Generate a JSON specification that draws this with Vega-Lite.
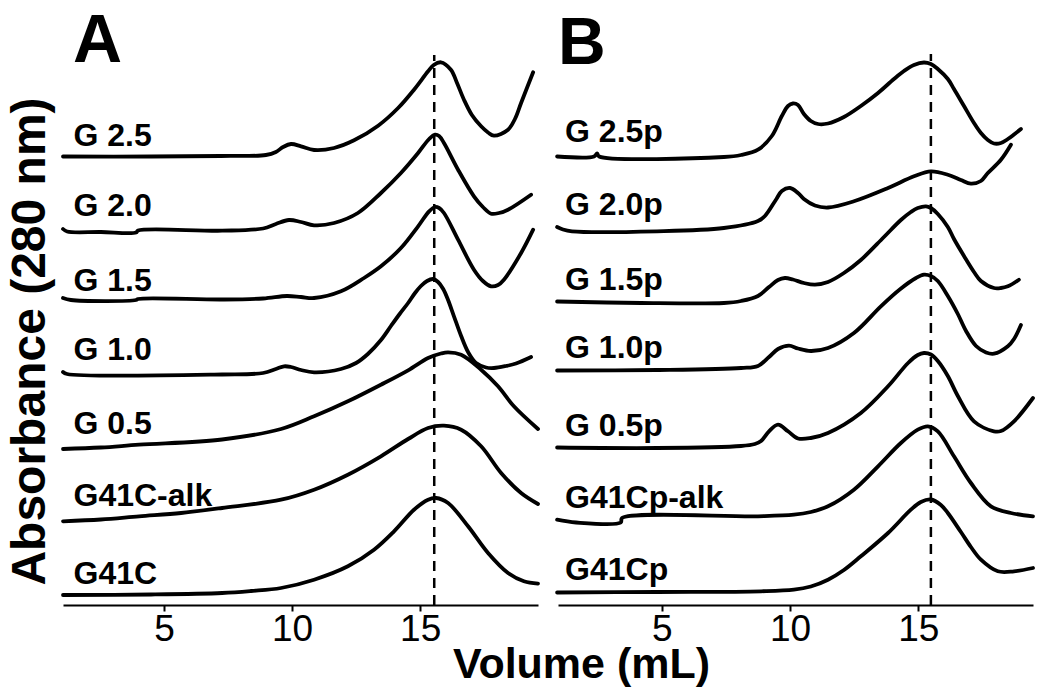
{
  "$schema": "https://vega.github.io/schema/vega-lite/v6.json",
  "background": "white",
  "padding": {"left": 5, "top": 8, "right": 5, "bottom": 5},
  "bounds": "flush",
  "spacing": 20,
  "config": {
    "view": {"stroke": null},
    "font": "Liberation Sans",
    "axis": {"domainColor": "black", "tickColor": "black", "labelColor": "black", "titleColor": "black", "grid": false},
    "title": {"color": "black"}
  },
  "datasets": {
    "tracesA": [
      {"sample":"G 2.5","volume":1.06,"abs":448.5},{"sample":"G 2.5","volume":4.50,"abs":448.5},{"sample":"G 2.5","volume":7.23,"abs":449},{"sample":"G 2.5","volume":8.98,"abs":450},{"sample":"G 2.5","volume":9.37,"abs":453},{"sample":"G 2.5","volume":9.65,"abs":458},{"sample":"G 2.5","volume":9.96,"abs":461},{"sample":"G 2.5","volume":10.35,"abs":458.7},{"sample":"G 2.5","volume":10.86,"abs":455},{"sample":"G 2.5","volume":11.64,"abs":457},{"sample":"G 2.5","volume":12.42,"abs":464.7},{"sample":"G 2.5","volume":13.36,"abs":479.3},{"sample":"G 2.5","volume":14.14,"abs":497},{"sample":"G 2.5","volume":14.76,"abs":515.3},{"sample":"G 2.5","volume":15.31,"abs":533.7},{"sample":"G 2.5","volume":15.53,"abs":540},{"sample":"G 2.5","volume":15.81,"abs":542.7},{"sample":"G 2.5","volume":16.20,"abs":535.3},{"sample":"G 2.5","volume":16.44,"abs":522},{"sample":"G 2.5","volume":16.71,"abs":505.3},{"sample":"G 2.5","volume":17.02,"abs":490},{"sample":"G 2.5","volume":17.38,"abs":478.7},{"sample":"G 2.5","volume":17.65,"abs":472.5},{"sample":"G 2.5","volume":17.88,"abs":469.3},{"sample":"G 2.5","volume":18.43,"abs":475.3},{"sample":"G 2.5","volume":18.70,"abs":486},{"sample":"G 2.5","volume":18.94,"abs":502},{"sample":"G 2.5","volume":19.41,"abs":532.7},

      {"sample":"G 2.0","volume":1.06,"abs":376},{"sample":"G 2.0","volume":1.22,"abs":373.5},{"sample":"G 2.0","volume":2.54,"abs":373},{"sample":"G 2.0","volume":3.91,"abs":372.5},{"sample":"G 2.0","volume":3.99,"abs":374.5},{"sample":"G 2.0","volume":7.27,"abs":374.3},{"sample":"G 2.0","volume":8.87,"abs":376.5},{"sample":"G 2.0","volume":9.37,"abs":381},{"sample":"G 2.0","volume":9.88,"abs":385},{"sample":"G 2.0","volume":10.35,"abs":383},{"sample":"G 2.0","volume":10.86,"abs":379.7},{"sample":"G 2.0","volume":11.64,"abs":382},{"sample":"G 2.0","volume":12.57,"abs":392},{"sample":"G 2.0","volume":13.47,"abs":412},{"sample":"G 2.0","volume":14.25,"abs":432},{"sample":"G 2.0","volume":14.92,"abs":452},{"sample":"G 2.0","volume":15.35,"abs":466},{"sample":"G 2.0","volume":15.58,"abs":470.3},{"sample":"G 2.0","volume":15.74,"abs":469},{"sample":"G 2.0","volume":15.93,"abs":462},{"sample":"G 2.0","volume":16.48,"abs":435.3},{"sample":"G 2.0","volume":17.10,"abs":408.7},{"sample":"G 2.0","volume":17.45,"abs":398},{"sample":"G 2.0","volume":17.77,"abs":391.3},{"sample":"G 2.0","volume":18.08,"abs":392},{"sample":"G 2.0","volume":18.43,"abs":395.3},{"sample":"G 2.0","volume":19.33,"abs":410.3},

      {"sample":"G 1.5","volume":1.06,"abs":307},{"sample":"G 1.5","volume":1.37,"abs":305},{"sample":"G 1.5","volume":3.91,"abs":305},{"sample":"G 1.5","volume":3.99,"abs":306},{"sample":"G 1.5","volume":7.27,"abs":305.5},{"sample":"G 1.5","volume":8.87,"abs":306.5},{"sample":"G 1.5","volume":9.80,"abs":309},{"sample":"G 1.5","volume":10.35,"abs":308},{"sample":"G 1.5","volume":10.86,"abs":307},{"sample":"G 1.5","volume":11.91,"abs":313.7},{"sample":"G 1.5","volume":12.81,"abs":327},{"sample":"G 1.5","volume":13.47,"abs":338.7},{"sample":"G 1.5","volume":14.25,"abs":357},{"sample":"G 1.5","volume":14.92,"abs":378.7},{"sample":"G 1.5","volume":15.35,"abs":393.7},{"sample":"G 1.5","volume":15.58,"abs":398},{"sample":"G 1.5","volume":15.74,"abs":397},{"sample":"G 1.5","volume":15.93,"abs":392},{"sample":"G 1.5","volume":16.48,"abs":365.3},{"sample":"G 1.5","volume":17.10,"abs":335.3},{"sample":"G 1.5","volume":17.45,"abs":324},{"sample":"G 1.5","volume":17.77,"abs":318.7},{"sample":"G 1.5","volume":18.04,"abs":320},{"sample":"G 1.5","volume":18.27,"abs":325.3},{"sample":"G 1.5","volume":18.94,"abs":352},{"sample":"G 1.5","volume":19.41,"abs":375.3},

      {"sample":"G 1.0","volume":1.06,"abs":233},{"sample":"G 1.0","volume":1.22,"abs":231},{"sample":"G 1.0","volume":7.27,"abs":230.5},{"sample":"G 1.0","volume":8.87,"abs":232},{"sample":"G 1.0","volume":9.37,"abs":236},{"sample":"G 1.0","volume":9.69,"abs":238.7},{"sample":"G 1.0","volume":9.96,"abs":238},{"sample":"G 1.0","volume":10.35,"abs":235},{"sample":"G 1.0","volume":10.86,"abs":232.7},{"sample":"G 1.0","volume":11.91,"abs":236},{"sample":"G 1.0","volume":12.50,"abs":242},{"sample":"G 1.0","volume":12.96,"abs":251},{"sample":"G 1.0","volume":13.47,"abs":265},{"sample":"G 1.0","volume":13.86,"abs":279},{"sample":"G 1.0","volume":14.20,"abs":291},{"sample":"G 1.0","volume":14.53,"abs":302},{"sample":"G 1.0","volume":14.80,"abs":312},{"sample":"G 1.0","volume":15.03,"abs":319},{"sample":"G 1.0","volume":15.27,"abs":324},{"sample":"G 1.0","volume":15.50,"abs":326},{"sample":"G 1.0","volume":15.70,"abs":323},{"sample":"G 1.0","volume":15.90,"abs":316},{"sample":"G 1.0","volume":16.09,"abs":305},{"sample":"G 1.0","volume":16.32,"abs":288.7},{"sample":"G 1.0","volume":16.60,"abs":269},{"sample":"G 1.0","volume":16.87,"abs":253},{"sample":"G 1.0","volume":17.18,"abs":242},{"sample":"G 1.0","volume":17.57,"abs":237.5},{"sample":"G 1.0","volume":17.88,"abs":237},{"sample":"G 1.0","volume":18.35,"abs":239},{"sample":"G 1.0","volume":18.74,"abs":241.5},{"sample":"G 1.0","volume":19.33,"abs":248},

      {"sample":"G 0.5","volume":1.06,"abs":156},{"sample":"G 0.5","volume":2.54,"abs":157.5},{"sample":"G 0.5","volume":4.03,"abs":160.3},{"sample":"G 0.5","volume":7.27,"abs":165.5},{"sample":"G 0.5","volume":9.57,"abs":176},{"sample":"G 0.5","volume":10.86,"abs":188.7},{"sample":"G 0.5","volume":12.18,"abs":203.7},{"sample":"G 0.5","volume":13.47,"abs":220.3},{"sample":"G 0.5","volume":14.53,"abs":234.7},{"sample":"G 0.5","volume":15.31,"abs":247},{"sample":"G 0.5","volume":15.81,"abs":251.5},{"sample":"G 0.5","volume":16.09,"abs":252.7},{"sample":"G 0.5","volume":16.60,"abs":250.3},{"sample":"G 0.5","volume":17.38,"abs":235.3},{"sample":"G 0.5","volume":18.04,"abs":218.7},{"sample":"G 0.5","volume":18.66,"abs":198.7},{"sample":"G 0.5","volume":19.60,"abs":176},

      {"sample":"G41C-alk","volume":1.06,"abs":83.7},{"sample":"G41C-alk","volume":2.54,"abs":85.5},{"sample":"G41C-alk","volume":4.03,"abs":88.7},{"sample":"G41C-alk","volume":5.67,"abs":92},{"sample":"G41C-alk","volume":7.27,"abs":97},{"sample":"G41C-alk","volume":9.57,"abs":105.3},{"sample":"G41C-alk","volume":10.86,"abs":115.3},{"sample":"G41C-alk","volume":12.18,"abs":130.3},{"sample":"G41C-alk","volume":13.47,"abs":148.7},{"sample":"G41C-alk","volume":14.53,"abs":166},{"sample":"G41C-alk","volume":15.31,"abs":177},{"sample":"G41C-alk","volume":15.93,"abs":179.3},{"sample":"G41C-alk","volume":16.60,"abs":175.3},{"sample":"G41C-alk","volume":17.38,"abs":158.7},{"sample":"G41C-alk","volume":18.16,"abs":132},{"sample":"G41C-alk","volume":18.94,"abs":112},{"sample":"G41C-alk","volume":19.60,"abs":101},

      {"sample":"G41C","volume":1.06,"abs":10},{"sample":"G41C","volume":4.50,"abs":10.5},{"sample":"G41C","volume":7.27,"abs":12},{"sample":"G41C","volume":8.40,"abs":14},{"sample":"G41C","volume":9.57,"abs":17},{"sample":"G41C","volume":10.86,"abs":25.3},{"sample":"G41C","volume":12.18,"abs":38.7},{"sample":"G41C","volume":13.20,"abs":55.3},{"sample":"G41C","volume":13.98,"abs":73.7},{"sample":"G41C","volume":14.76,"abs":95.3},{"sample":"G41C","volume":15.31,"abs":105.3},{"sample":"G41C","volume":15.62,"abs":107},{"sample":"G41C","volume":16.09,"abs":102},{"sample":"G41C","volume":16.87,"abs":78.7},{"sample":"G41C","volume":17.65,"abs":52},{"sample":"G41C","volume":18.43,"abs":32},{"sample":"G41C","volume":19.05,"abs":23.7},{"sample":"G41C","volume":19.60,"abs":21.3}
    ],
    "tracesB": [
      {"sample":"G 2.5p","volume":0.92,"abs":448.5},{"sample":"G 2.5p","volume":2.36,"abs":448.5},{"sample":"G 2.5p","volume":2.48,"abs":451.5},{"sample":"G 2.5p","volume":2.56,"abs":448.5},{"sample":"G 2.5p","volume":7.42,"abs":448},{"sample":"G 2.5p","volume":8.09,"abs":450},{"sample":"G 2.5p","volume":8.75,"abs":455.3},{"sample":"G 2.5p","volume":9.29,"abs":469},{"sample":"G 2.5p","volume":9.68,"abs":489},{"sample":"G 2.5p","volume":9.92,"abs":499},{"sample":"G 2.5p","volume":10.11,"abs":501.5},{"sample":"G 2.5p","volume":10.31,"abs":500},{"sample":"G 2.5p","volume":10.54,"abs":491},{"sample":"G 2.5p","volume":10.81,"abs":484},{"sample":"G 2.5p","volume":11.09,"abs":481},{"sample":"G 2.5p","volume":11.48,"abs":481.5},{"sample":"G 2.5p","volume":12.10,"abs":488},{"sample":"G 2.5p","volume":12.76,"abs":499},{"sample":"G 2.5p","volume":13.43,"abs":512},{"sample":"G 2.5p","volume":14.05,"abs":526},{"sample":"G 2.5p","volume":14.44,"abs":534},{"sample":"G 2.5p","volume":14.83,"abs":540},{"sample":"G 2.5p","volume":15.22,"abs":542.5},{"sample":"G 2.5p","volume":15.49,"abs":541},{"sample":"G 2.5p","volume":15.76,"abs":536},{"sample":"G 2.5p","volume":16.15,"abs":526},{"sample":"G 2.5p","volume":16.39,"abs":516},{"sample":"G 2.5p","volume":16.78,"abs":499},{"sample":"G 2.5p","volume":17.17,"abs":482},{"sample":"G 2.5p","volume":17.44,"abs":472},{"sample":"G 2.5p","volume":17.71,"abs":465},{"sample":"G 2.5p","volume":17.95,"abs":461.5},{"sample":"G 2.5p","volume":18.22,"abs":462},{"sample":"G 2.5p","volume":18.49,"abs":466},{"sample":"G 2.5p","volume":18.73,"abs":470.5},{"sample":"G 2.5p","volume":19.00,"abs":476},

      {"sample":"G 2.0p","volume":0.92,"abs":378},{"sample":"G 2.0p","volume":1.15,"abs":375.5},{"sample":"G 2.0p","volume":1.50,"abs":373.7},{"sample":"G 2.0p","volume":4.81,"abs":373.7},{"sample":"G 2.0p","volume":7.42,"abs":377},{"sample":"G 2.0p","volume":8.75,"abs":384},{"sample":"G 2.0p","volume":9.02,"abs":389},{"sample":"G 2.0p","volume":9.45,"abs":405.3},{"sample":"G 2.0p","volume":9.68,"abs":414},{"sample":"G 2.0p","volume":10.00,"abs":417},{"sample":"G 2.0p","volume":10.31,"abs":412},{"sample":"G 2.0p","volume":10.54,"abs":406},{"sample":"G 2.0p","volume":10.97,"abs":399.5},{"sample":"G 2.0p","volume":11.48,"abs":397.5},{"sample":"G 2.0p","volume":12.49,"abs":403.7},{"sample":"G 2.0p","volume":13.82,"abs":417},{"sample":"G 2.0p","volume":14.83,"abs":428.7},{"sample":"G 2.0p","volume":15.49,"abs":433.7},{"sample":"G 2.0p","volume":16.15,"abs":430.3},{"sample":"G 2.0p","volume":16.66,"abs":425},{"sample":"G 2.0p","volume":17.05,"abs":421.3},{"sample":"G 2.0p","volume":17.44,"abs":424},{"sample":"G 2.0p","volume":17.71,"abs":432},{"sample":"G 2.0p","volume":18.22,"abs":445.3},{"sample":"G 2.0p","volume":18.61,"abs":460.3},

      {"sample":"G 1.5p","volume":0.92,"abs":303.5},{"sample":"G 1.5p","volume":4.19,"abs":302},{"sample":"G 1.5p","volume":7.42,"abs":302},{"sample":"G 1.5p","volume":8.09,"abs":304},{"sample":"G 1.5p","volume":8.75,"abs":309},{"sample":"G 1.5p","volume":9.18,"abs":318},{"sample":"G 1.5p","volume":9.53,"abs":325},{"sample":"G 1.5p","volume":9.80,"abs":327},{"sample":"G 1.5p","volume":10.11,"abs":325.5},{"sample":"G 1.5p","volume":10.54,"abs":322},{"sample":"G 1.5p","volume":10.97,"abs":320.3},{"sample":"G 1.5p","volume":11.48,"abs":323},{"sample":"G 1.5p","volume":12.10,"abs":332},{"sample":"G 1.5p","volume":12.76,"abs":345},{"sample":"G 1.5p","volume":13.66,"abs":368},{"sample":"G 1.5p","volume":14.32,"abs":385},{"sample":"G 1.5p","volume":14.71,"abs":393},{"sample":"G 1.5p","volume":14.98,"abs":397},{"sample":"G 1.5p","volume":15.30,"abs":398.7},{"sample":"G 1.5p","volume":15.49,"abs":397},{"sample":"G 1.5p","volume":15.76,"abs":391},{"sample":"G 1.5p","volume":16.15,"abs":378},{"sample":"G 1.5p","volume":16.39,"abs":366},{"sample":"G 1.5p","volume":16.78,"abs":349},{"sample":"G 1.5p","volume":17.17,"abs":333},{"sample":"G 1.5p","volume":17.44,"abs":324},{"sample":"G 1.5p","volume":17.95,"abs":317},{"sample":"G 1.5p","volume":18.22,"abs":317},{"sample":"G 1.5p","volume":18.49,"abs":318.7},{"sample":"G 1.5p","volume":18.92,"abs":325.3},

      {"sample":"G 1.0p","volume":0.92,"abs":234.5},{"sample":"G 1.0p","volume":4.81,"abs":235},{"sample":"G 1.0p","volume":8.09,"abs":237},{"sample":"G 1.0p","volume":8.75,"abs":239},{"sample":"G 1.0p","volume":9.18,"abs":248},{"sample":"G 1.0p","volume":9.53,"abs":256},{"sample":"G 1.0p","volume":9.96,"abs":259.3},{"sample":"G 1.0p","volume":10.31,"abs":256.5},{"sample":"G 1.0p","volume":10.81,"abs":254},{"sample":"G 1.0p","volume":11.48,"abs":257},{"sample":"G 1.0p","volume":12.49,"abs":272},{"sample":"G 1.0p","volume":13.54,"abs":298.7},{"sample":"G 1.0p","volume":14.30,"abs":316},{"sample":"G 1.0p","volume":14.91,"abs":327},{"sample":"G 1.0p","volume":15.22,"abs":330.3},{"sample":"G 1.0p","volume":15.49,"abs":329},{"sample":"G 1.0p","volume":15.76,"abs":324},{"sample":"G 1.0p","volume":16.15,"abs":309},{"sample":"G 1.0p","volume":16.54,"abs":291},{"sample":"G 1.0p","volume":16.86,"abs":274},{"sample":"G 1.0p","volume":17.25,"abs":259},{"sample":"G 1.0p","volume":17.64,"abs":252.5},{"sample":"G 1.0p","volume":17.95,"abs":251.3},{"sample":"G 1.0p","volume":18.49,"abs":258.7},{"sample":"G 1.0p","volume":18.73,"abs":266},{"sample":"G 1.0p","volume":19.00,"abs":280},

      {"sample":"G 0.5p","volume":0.92,"abs":157.5},{"sample":"G 0.5p","volume":4.81,"abs":157},{"sample":"G 0.5p","volume":8.09,"abs":159},{"sample":"G 0.5p","volume":8.63,"abs":161},{"sample":"G 0.5p","volume":8.87,"abs":164},{"sample":"G 0.5p","volume":9.18,"abs":173.7},{"sample":"G 0.5p","volume":9.53,"abs":180.3},{"sample":"G 0.5p","volume":9.92,"abs":173.7},{"sample":"G 0.5p","volume":10.31,"abs":166.5},{"sample":"G 0.5p","volume":10.81,"abs":167},{"sample":"G 0.5p","volume":11.48,"abs":172},{"sample":"G 0.5p","volume":12.76,"abs":192},{"sample":"G 0.5p","volume":13.82,"abs":218.7},{"sample":"G 0.5p","volume":14.60,"abs":242},{"sample":"G 0.5p","volume":14.98,"abs":250},{"sample":"G 0.5p","volume":15.22,"abs":252},{"sample":"G 0.5p","volume":15.49,"abs":250.5},{"sample":"G 0.5p","volume":15.76,"abs":244},{"sample":"G 0.5p","volume":16.15,"abs":229},{"sample":"G 0.5p","volume":16.54,"abs":209},{"sample":"G 0.5p","volume":17.17,"abs":183.7},{"sample":"G 0.5p","volume":17.95,"abs":173.7},{"sample":"G 0.5p","volume":18.22,"abs":174},{"sample":"G 0.5p","volume":18.73,"abs":183.7},{"sample":"G 0.5p","volume":19.47,"abs":207},

      {"sample":"G41Cp-alk","volume":0.92,"abs":85.3},{"sample":"G41Cp-alk","volume":1.66,"abs":82.5},{"sample":"G41Cp-alk","volume":3.40,"abs":82.5},{"sample":"G41Cp-alk","volume":3.45,"abs":87},{"sample":"G41Cp-alk","volume":8.75,"abs":88.7},{"sample":"G41Cp-alk","volume":10.15,"abs":90.3},{"sample":"G41Cp-alk","volume":10.81,"abs":93},{"sample":"G41Cp-alk","volume":11.48,"abs":98.7},{"sample":"G41Cp-alk","volume":12.49,"abs":115.3},{"sample":"G41Cp-alk","volume":13.43,"abs":138.7},{"sample":"G41Cp-alk","volume":14.32,"abs":162},{"sample":"G41Cp-alk","volume":14.98,"abs":175.3},{"sample":"G41Cp-alk","volume":15.37,"abs":178.7},{"sample":"G41Cp-alk","volume":15.76,"abs":173.7},{"sample":"G41Cp-alk","volume":16.39,"abs":148.7},{"sample":"G41Cp-alk","volume":17.05,"abs":122},{"sample":"G41Cp-alk","volume":17.83,"abs":98.7},{"sample":"G41Cp-alk","volume":18.61,"abs":92},{"sample":"G41Cp-alk","volume":19.47,"abs":88.7},

      {"sample":"G41Cp","volume":0.92,"abs":12.5},{"sample":"G41Cp","volume":4.81,"abs":13},{"sample":"G41Cp","volume":8.87,"abs":13.7},{"sample":"G41Cp","volume":10.15,"abs":15.3},{"sample":"G41Cp","volume":10.81,"abs":18.5},{"sample":"G41Cp","volume":11.48,"abs":25.3},{"sample":"G41Cp","volume":12.10,"abs":35},{"sample":"G41Cp","volume":12.76,"abs":48.7},{"sample":"G41Cp","volume":13.82,"abs":72},{"sample":"G41Cp","volume":14.71,"abs":95.3},{"sample":"G41Cp","volume":15.10,"abs":103},{"sample":"G41Cp","volume":15.49,"abs":105.5},{"sample":"G41Cp","volume":15.88,"abs":100},{"sample":"G41Cp","volume":16.15,"abs":92},{"sample":"G41Cp","volume":16.66,"abs":73},{"sample":"G41Cp","volume":17.05,"abs":58},{"sample":"G41Cp","volume":17.44,"abs":45.3},{"sample":"G41Cp","volume":18.10,"abs":33.7},{"sample":"G41Cp","volume":18.73,"abs":33.7},{"sample":"G41Cp","volume":19.47,"abs":37}
    ],
    "labelsA": [
      {"label":"G 2.5","volume":1.47,"abs":458.7},
      {"label":"G 2.0","volume":1.47,"abs":388.7},
      {"label":"G 1.5","volume":1.47,"abs":313.7},
      {"label":"G 1.0","volume":1.47,"abs":245.3},
      {"label":"G 0.5","volume":1.47,"abs":171.3},
      {"label":"G41C-alk","volume":1.47,"abs":98.7},
      {"label":"G41C","volume":1.47,"abs":21.3}
    ],
    "labelsB": [
      {"label":"G 2.5p","volume":1.23,"abs":462.7},
      {"label":"G 2.0p","volume":1.23,"abs":390.3},
      {"label":"G 1.5p","volume":1.23,"abs":315.3},
      {"label":"G 1.0p","volume":1.23,"abs":247},
      {"label":"G 0.5p","volume":1.23,"abs":168.7},
      {"label":"G41Cp-alk","volume":1.23,"abs":97},
      {"label":"G41Cp","volume":1.23,"abs":25.3}
    ],
    "refA": [{"volume":15.55,"abs":0,"abs_top":550}],
    "refB": [{"volume":15.49,"abs":0,"abs_top":551}]
  },
  "hconcat": [
    {
      "width": 475,
      "height": 552,
      "title": {"text": "A", "anchor": "start", "frame": "group", "offset": -12, "dy": 65, "baseline": "alphabetic", "fontSize": 68, "fontWeight": "bold", "dx": 10},
      "encoding": {
        "x": {"field": "volume", "type": "quantitative", "scale": {"domain": [1.06, 19.6], "nice": false, "zero": false},
          "axis": {"values": [5, 10, 15], "title": "Volume (mL)", "titleFontSize": 43, "titleFontWeight": "bold", "titleX": 518, "titleY": 72, "titleAlign": "center", "titleBaseline": "alphabetic", "labelFontSize": 37, "labelFontWeight": "normal", "labelPadding": 0, "tickSize": 6, "tickWidth": 2, "domainWidth": 2, "labelFlush": false, "labelOverlap": false}},
        "y": {"field": "abs", "type": "quantitative", "scale": {"domain": [0, 552], "nice": false, "zero": false},
          "axis": {"title": "Absorbance (280 nm)", "titleFontSize": 48, "titleFontWeight": "bold", "titlePadding": 9, "titleY": 288, "labels": false, "ticks": false, "domain": false}}
      },
      "layer": [
        {"data": {"name": "refA"}, "mark": {"type": "rule", "color": "black", "strokeWidth": 2.5, "strokeDash": [10, 7]}, "encoding": {"y2": {"field": "abs_top"}}},
        {"data": {"name": "tracesA"}, "mark": {"type": "line", "color": "black", "strokeWidth": 3.8, "interpolate": "catmull-rom", "strokeCap": "round", "strokeJoin": "round"}, "encoding": {"detail": {"field": "sample"}}},
        {"data": {"name": "labelsA"}, "mark": {"type": "text", "align": "left", "baseline": "alphabetic", "fontSize": 32, "fontWeight": "bold", "color": "black"}, "encoding": {"text": {"field": "label"}}}
      ]
    },
    {
      "width": 475,
      "height": 552,
      "title": {"text": "B", "anchor": "start", "frame": "group", "offset": -12, "dy": 65, "baseline": "alphabetic", "fontSize": 66, "fontWeight": "bold", "dx": 0},
      "encoding": {
        "x": {"field": "volume", "type": "quantitative", "scale": {"domain": [0.955, 19.47], "nice": false, "zero": false},
          "axis": {"values": [5, 10, 15], "title": null, "labelFontSize": 37, "labelFontWeight": "normal", "labelPadding": 0, "tickSize": 6, "tickWidth": 2, "domainWidth": 2, "labelFlush": false, "labelOverlap": false}},
        "y": {"field": "abs", "type": "quantitative", "scale": {"domain": [0, 552], "nice": false, "zero": false}, "axis": null}
      },
      "layer": [
        {"data": {"name": "refB"}, "mark": {"type": "rule", "color": "black", "strokeWidth": 2.5, "strokeDash": [10, 7]}, "encoding": {"y2": {"field": "abs_top"}}},
        {"data": {"name": "tracesB"}, "mark": {"type": "line", "color": "black", "strokeWidth": 3.8, "interpolate": "catmull-rom", "strokeCap": "round", "strokeJoin": "round"}, "encoding": {"detail": {"field": "sample"}}},
        {"data": {"name": "labelsB"}, "mark": {"type": "text", "align": "left", "baseline": "alphabetic", "fontSize": 32, "fontWeight": "bold", "color": "black"}, "encoding": {"text": {"field": "label"}}}
      ]
    }
  ]
}
